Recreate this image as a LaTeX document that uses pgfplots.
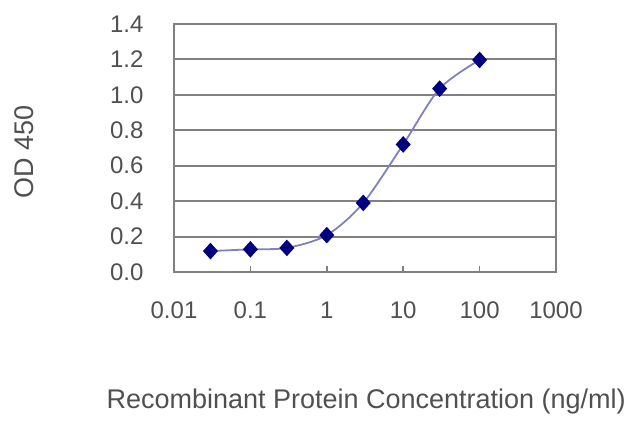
\documentclass[border=0pt]{standalone}
\usepackage{fontspec}
\setmainfont{Liberation Sans}
\usepackage{pgfplots}
\pgfplotsset{compat=1.18}
\definecolor{txt}{HTML}{505050}
\definecolor{frame}{HTML}{808080}
\definecolor{navy}{HTML}{000080}
\definecolor{curve}{HTML}{8080C0}
\begin{document}
\begin{tikzpicture}
\path (0,0) rectangle (640pt,427pt);
\begin{axis}[
    at={(174pt,155pt)}, anchor=south west,
    width=382pt, height=248pt, scale only axis,
    xmode=log, xmin=0.01, xmax=1000,
    ymin=0, ymax=1.4,
    xtick={0.01,0.1,1,10,100,1000},
    xticklabels={0.01,0.1,1,10,100,1000},
    ytick={0,0.2,...,1.4},
    minor xtick={}, minor tick length=0pt,
    yticklabel style={/pgf/number format/.cd, fixed, fixed zerofill, precision=1, assume math mode=true},
    tick pos=left, tick align=inside,
    major tick length=6pt,
    ymajorgrids,
    grid style={frame, line width=2pt},
    axis line style={frame, line width=2pt},
    tick style={frame, line width=1.5pt},
    font=\fontsize{24}{28}\selectfont,
    tick label style={txt},
    xticklabel shift=26pt,
    yticklabel shift=27pt,
    xlabel={Recombinant Protein Concentration (ng/ml)},
    ylabel={OD 450},
    label style={txt, font=\fontsize{27}{32}\selectfont},
    xlabel style={at={(axis description cs:0.503,-0.524)}, anchor=center},
    ylabel style={at={(axis description cs:-0.393,0.484)}, anchor=center},
]
\addplot[curve, line width=1.8pt, smooth, tension=0.5,
    mark=diamond*, mark size=7pt,
    mark options={navy, fill=navy, solid, xscale=1.2}]
coordinates {
    (0.03,0.118) (0.1,0.128) (0.3,0.136) (1,0.208)
    (3,0.39) (10,0.72) (30,1.035) (100,1.197)
};
\end{axis}
\end{tikzpicture}
\end{document}
